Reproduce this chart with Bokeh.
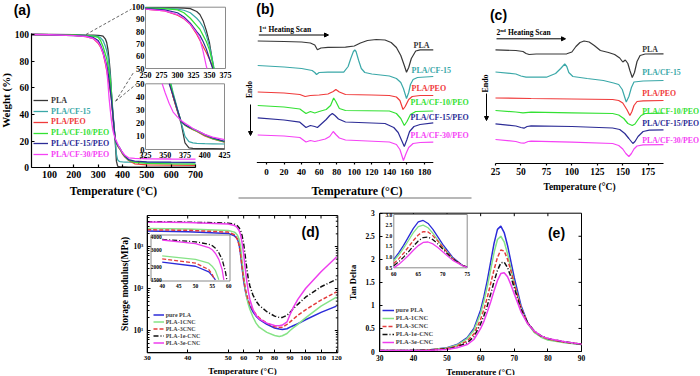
import math
from bokeh.plotting import figure
from bokeh.models import (Range1d, FixedTicker, CustomJSTickFormatter, Legend,
                          LegendItem, Label, Arrow, NormalHead, Spacer, LogScale)
from bokeh.layouts import row, column
from bokeh.embed import file_html
from bokeh.resources import INLINE
from bokeh.core.properties import value

# ======================= DATA =======================
A_NAMES = ["PLA", "PLA/CF-15", "PLA/PEO", "PLA/CF-10/PEO", "PLA/CF-15/PEO", "PLA/CF-30/PEO"]
A_COLORS = ["#383838", "#3aa8a8", "#f03a3a", "#33e133", "#2c2c96", "#f542f5"]

# (a) TGA: temperature (deg C) and weight (%)
TGA_T = [25, 100, 200, 250, 280, 300, 310, 320, 330, 335, 340, 345, 350, 355, 360, 365, 370, 375,
         380, 385, 390, 400, 410, 425, 450, 500, 600, 700]
TGA_PLA = [100, 100, 99.8, 99.6, 99.5, 99.4, 99.2, 98.8, 96.5, 94, 89, 81, 71, 55, 40, 30, 20, 5,
           1.2, 0.8, 0.7, 0.6, 0.6, 0.5, 0.5, 0.5, 0.5, 0.5]
TGA_CF15 = [100, 99.9, 99.6, 99.3, 99, 98.5, 97.5, 95.5, 91, 88, 84, 77, 68, 56, 43, 32, 21, 10,
            6, 5, 4.6, 4.4, 4.3, 4.2, 4.1, 4, 3.8, 3.7]
TGA_PEO = [100, 99.8, 99.3, 98.5, 97, 93.5, 90.6, 86, 78, 73, 68, 63, 57.5, 51, 40, 30, 21.5, 18.5,
           16.5, 15, 13.8, 10.3, 8, 5.5, 3, 2.2, 2, 1.8]
TGA_CF10P = [100, 99.8, 99.5, 99.2, 98.8, 97.8, 95.5, 91, 85, 82, 77, 72, 65, 54, 42, 31, 21.5, 18.5,
             16.8, 15.2, 14, 10.8, 8.3, 5.8, 4, 3.3, 3, 2.8]
TGA_CF15P = [100, 99.8, 99.2, 98.8, 97.8, 95.5, 92, 87, 80, 77, 72, 66, 58, 50, 41, 31, 21.5, 18.8,
             17.2, 15.8, 14.5, 11.3, 8.8, 6.2, 5, 4.5, 4.2, 4]
TGA_CF30P = [100, 99.8, 99.2, 98.5, 97, 94, 91, 86, 79, 74, 64, 52, 43, 35, 28.5, 25, 22, 20,
             18, 16, 14.5, 11.5, 9.4, 7.5, 7, 6.8, 6.6, 6.5]
A_XTICKS = [100, 200, 300, 400, 500, 600, 700]
A_YTICKS = [0, 20, 40, 60, 80, 100]
A_U_XT = [250, 275, 300, 325, 350, 375]
A_U_YT = [100, 90, 80, 70, 60, 50]
A_L_XT = [325, 350, 375, 400, 425]
A_L_YT = [50, 40, 30, 20, 10, 0]

# (b) 1st heating DSC: temperature and heat flow (a.u., exo up, relative to curve start)
B_T_PLA = [-10, 20, 40, 50, 55, 58, 62, 70, 90, 100, 107, 115, 125, 135, 142, 148, 153, 157, 159.5, 162, 165, 170, 175, 190]
B_HF_PLA = [0, -0.5, -1, -2, -4, -8.8, -7, -6.3, -6.2, -5, -2, 0.5, 1.5, 1, -1.5, -6.5, -14.5, -24.5, -31.2, -26.5, -17.5, -10, -8.8, -8.8]
B_T_CF15 = [-10, 20, 40, 52, 55, 57, 60, 70, 88, 93, 96, 99, 100.6, 102, 105, 108, 112, 120, 140, 148, 153, 156, 159.5, 162, 164, 167, 172, 190]
B_HF_CF15 = [0, -1.5, -3, -5, -7, -9, -7, -6.7, -6.7, -1, 7, 14, 15.5, 14, 5, -3, -7, -8.5, -10.5, -13, -17, -23, -33, -27, -19, -14, -12, -11]
B_T_PEO = [-10, 20, 38, 44, 50, 60, 70, 76, 79, 83, 90, 120, 140, 148, 152, 155.5, 158, 162, 166, 175, 190]
B_HF_PEO = [0, -1, -2.5, -4.5, -3.5, -3, -2, 0.5, 2.5, 0, -2.5, -3, -3.5, -5, -8.5, -17.5, -14.5, -7.5, -4.5, -3.5, -3.5]
B_T_CF10P = [-10, 20, 38, 45, 50, 55, 60, 68, 73, 76.5, 79, 83, 90, 140, 148, 153, 157, 160, 164, 170, 190]
B_HF_CF10P = [0, -1.5, -3.5, -8, -6, -7.5, -6, -4, 0, 7.5, 4, -3, -5, -5.5, -8, -13, -20, -16, -9, -6, -5.5]
B_T_CF15P = [-10, 20, 38, 45, 50, 55, 58, 63, 68, 72, 75, 78, 82, 90, 135, 145, 150, 154, 157, 160, 163, 168, 175, 190]
B_HF_CF15P = [0, -2.2, -4.4, -9.7, -7.7, -8.7, -9.7, -5.7, -1.7, 2.3, 4.3, 2.3, -1.2, -4.2, -5.7, -9.7, -14.7, -22.7, -28.7, -21.7, -13.7, -8.7, -6.7, -5]
B_T_CF30P = [-10, 20, 38, 45, 50, 55, 60, 67, 72, 76, 79, 83, 90, 140, 148, 152, 156, 159, 162, 167, 175, 190]
B_HF_CF30P = [0, -1, -2.5, -7, -5.5, -6.5, -5.5, -4, -1.5, 3.5, 0.5, -3, -5, -7, -9.5, -14.5, -25.5, -18.5, -12.5, -8.5, -7.5, -7.2]
B_OFFSET = [40.5, 65, 91.5, 105, 117.3, 134.5]
B_XTICKS = [0, 20, 40, 60, 80, 100, 120, 140, 160, 180]

# (c) 2nd heating DSC
C_T_PLA = [25, 45, 52, 55, 58, 65, 95, 100, 104, 108, 112, 117, 122, 128, 136, 142, 147, 150, 152.5, 155, 157, 159.3, 161.5, 164, 167, 172, 190]
C_HF_PLA = [0, -0.7, -1.7, -3.7, -4.7, -4.2, -4, -2.2, 3.3, 7.3, 8.8, 7.8, 4.3, -0.7, -2.7, -4.7, -8.2, -12.2, -10.2, -13.7, -20.7, -27.7, -22.7, -11.7, -5.7, -4.2, -4]
C_T_CF15 = [25, 45, 50, 55, 75, 84, 89, 93, 95, 97, 101, 115, 131, 141, 146, 149.5, 153.4, 156, 158.5, 161, 170, 190]
C_HF_CF15 = [0, -2, -4, -5.2, -5.2, -1.5, 3.5, 8, 5.5, -0.5, -4.5, -6.5, -8.5, -11, -12.5, -17.5, -30, -24.5, -15.5, -10, -9, -8.5]
C_T_PEO = [25, 60, 100, 140, 146, 150, 154, 157, 159, 161, 164, 170, 190]
C_HF_PEO = [0, -0.5, -1, -1.5, -2.5, -5, -11.5, -17.5, -13.5, -7.5, -3.5, -2.8, -2.5]
C_T_CF10P = [25, 45, 52, 60, 100, 140, 146, 151, 155, 159.3, 162, 165, 168, 172, 190]
C_HF_CF10P = [0, -1.5, -2.3, -1.7, -2.3, -3, -4.5, -8, -13, -15, -13.5, -9, -5, -3, -2.7]
C_T_CF15P = [25, 45, 50, 53, 56, 60, 100, 140, 147, 152, 156, 159.9, 162, 165, 170, 176, 190]
C_HF_CF15P = [0, -2.2, -3.7, -4.4, -2.7, -2, -2.7, -4.2, -5.7, -9.7, -14.7, -19.7, -17.7, -12.7, -7.7, -6.4, -6]
C_T_CF30P = [25, 45, 50, 53, 57, 60, 100, 140, 146, 150, 153, 156, 158.5, 161, 164, 170, 190]
C_HF_CF30P = [0, -2, -3.5, -3.7, -2, -1.7, -2.7, -4, -6, -9.5, -14, -17, -14, -9.5, -6.5, -5.3, -5.2]
C_OFFSET = [49.3, 71.5, 97.5, 110, 123.3, 139]
C_XTICKS = [25, 50, 75, 100, 125, 150, 175]

# (d) storage modulus (MPa)
D_NAMES = ["pure PLA", "PLA-1CNC", "PLA-3CNC", "PLA-1e-CNC", "PLA-3e-CNC"]
D_COLORS = ["#2b2bd9", "#86e386", "#e33b3b", "#111111", "#ee3cee"]
D_DASH = ["solid", "solid", "4 2", "5 2 1 2", "solid"]
D_T = [30, 40, 50, 54, 55, 56, 57, 58, 59, 60, 61, 62, 63, 64, 66, 68, 70, 75, 80, 83, 85, 88, 90, 92, 95, 100, 110, 120]
D_PURE = [2350, 2250, 2050, 1800, 1650, 1500, 1150, 650, 300, 150, 90, 62, 47, 38, 28, 22, 18.5, 14, 11.5, 10.8, 10.5, 11, 12, 13, 14.5, 18, 27, 38]
D_1CNC = [2700, 2600, 2400, 2200, 2050, 1850, 1500, 1000, 450, 200, 100, 60, 42, 32, 21, 15, 12, 9, 7.6, 7.2, 7.5, 8.5, 10, 11.5, 14, 20, 38, 62]
D_3CNC = [2500, 2430, 2200, 1900, 1700, 1450, 1100, 650, 320, 170, 100, 70, 52, 42, 31, 24, 20, 15, 12.3, 11.8, 12, 14, 16, 18.5, 23, 31, 53, 83]
D_1E = [3900, 3800, 3600, 3400, 3300, 3100, 2800, 2400, 1800, 1150, 600, 300, 170, 115, 70, 50, 40, 28, 22, 20.5, 20.5, 23, 27, 33, 42, 62, 110, 165]
D_3E = [3850, 3750, 3450, 3150, 3000, 2750, 2400, 1900, 1200, 650, 300, 150, 85, 55, 32, 23, 19, 15, 13.2, 13, 13.5, 16, 24, 35, 55, 100, 250, 560]
D_XTICKS = [30, 40, 50, 60, 70, 80, 90, 100, 110, 120]
D_YTICKS = [10, 100, 1000]
D_I_XT = [40, 45, 50, 55, 60]
D_I_YT = [4000, 3000, 2000, 1500]

# (e) tan delta
E_T = [30, 35, 40, 45, 50, 53, 56, 58, 60, 61, 62, 63, 64, 65, 66, 67, 68, 69, 70, 72, 74, 76, 78, 80, 85, 90]
E_PURE = [0.02, 0.02, 0.025, 0.04, 0.08, 0.15, 0.3, 0.5, 0.9, 1.2, 1.55, 1.95, 2.35, 2.65, 2.72, 2.58, 2.3, 1.95, 1.6, 1.0, 0.62, 0.42, 0.32, 0.26, 0.2, 0.15]
E_1CNC = [0.02, 0.02, 0.025, 0.04, 0.075, 0.14, 0.28, 0.46, 0.83, 1.1, 1.42, 1.78, 2.15, 2.43, 2.5, 2.38, 2.12, 1.8, 1.48, 0.94, 0.6, 0.41, 0.31, 0.25, 0.19, 0.15]
E_3CNC = [0.02, 0.02, 0.022, 0.035, 0.065, 0.12, 0.23, 0.38, 0.7, 0.92, 1.18, 1.48, 1.78, 2.04, 2.2, 2.18, 2.0, 1.75, 1.47, 0.95, 0.62, 0.43, 0.33, 0.27, 0.2, 0.16]
E_1E = [0.02, 0.02, 0.022, 0.03, 0.055, 0.1, 0.19, 0.32, 0.6, 0.78, 1.0, 1.25, 1.52, 1.76, 1.92, 1.94, 1.82, 1.62, 1.38, 0.92, 0.62, 0.44, 0.34, 0.28, 0.21, 0.16]
E_3E = [0.02, 0.02, 0.02, 0.025, 0.045, 0.08, 0.15, 0.26, 0.5, 0.66, 0.86, 1.08, 1.32, 1.54, 1.69, 1.71, 1.62, 1.45, 1.25, 0.86, 0.6, 0.44, 0.34, 0.28, 0.21, 0.16]
E_XTICKS = [30, 40, 50, 60, 70, 80, 90]
E_YTICKS = [0, 0.5, 1, 1.5, 2, 2.5, 3]
E_I_XT = [60, 65, 70, 75]
E_I_YT = [3.0, 2.5, 2.0, 1.5, 1.0, 0.5]

# ======================= HELPERS =======================
SERIF = "Liberation Serif"
SANS = "Liberation Sans"


def edge(p0, v0, p1, v1, q):
    return v0 + (q - p0) * (v1 - v0) / (p1 - p0)


def make_fig(W, H, xr, yr, **kw):
    p = figure(width=W, height=H, x_range=Range1d(*xr), y_range=Range1d(*yr),
               min_border=0, min_border_left=0, min_border_right=0, min_border_top=0,
               min_border_bottom=0, toolbar_location=None, output_backend="svg", title=None, **kw)
    p.grid.visible = False
    p.outline_line_color = None
    p.background_fill_color = "white"
    p.border_fill_color = "white"
    return p


def style_axis(ax, tick_px, lab_px, tick_in=0, tick_out=3, lw=1.0, std=2, lstd=2):
    ax.major_label_text_font = SERIF
    ax.major_label_text_font_style = "bold"
    ax.major_label_text_font_size = tick_px
    ax.major_label_text_color = "black"
    ax.axis_label_text_font = SERIF
    ax.axis_label_text_font_style = "bold"
    ax.axis_label_text_font_size = lab_px
    ax.axis_label_text_color = "black"
    ax.major_tick_in = tick_in
    ax.major_tick_out = tick_out
    ax.minor_tick_line_color = None
    ax.axis_line_width = lw
    ax.major_tick_line_width = lw
    ax.axis_line_color = "black"
    ax.major_tick_line_color = "black"
    ax.major_label_standoff = std
    ax.axis_label_standoff = lstd


def clip_poly(xs, ys, x0, x1, y0, y1):
    parts_x, parts_y = [], []
    cx, cy = [], []
    for i in range(len(xs) - 1):
        ax0, ay0, bx0, by0 = xs[i], ys[i], xs[i + 1], ys[i + 1]
        dx, dy = bx0 - ax0, by0 - ay0
        t0, t1 = 0.0, 1.0
        ok = True
        for pp, qq in ((-dx, ax0 - x0), (dx, x1 - ax0), (-dy, ay0 - y0), (dy, y1 - ay0)):
            if pp == 0:
                if qq < 0:
                    ok = False
                    break
            else:
                r = qq / pp
                if pp < 0:
                    if r > t1:
                        ok = False
                        break
                    t0 = max(t0, r)
                else:
                    if r < t0:
                        ok = False
                        break
                    t1 = min(t1, r)
        if not ok or t0 > t1:
            if cx:
                parts_x.append(cx)
                parts_y.append(cy)
                cx, cy = [], []
            continue
        s_x, s_y = ax0 + t0 * dx, ay0 + t0 * dy
        e_x, e_y = ax0 + t1 * dx, ay0 + t1 * dy
        if cx and t0 > 0:
            parts_x.append(cx)
            parts_y.append(cy)
            cx, cy = [], []
        if not cx:
            cx, cy = [s_x], [s_y]
        cx.append(e_x)
        cy.append(e_y)
        if t1 < 1:
            parts_x.append(cx)
            parts_y.append(cy)
            cx, cy = [], []
    if cx:
        parts_x.append(cx)
        parts_y.append(cy)
    return parts_x, parts_y


def lab(p, x, y, text, size, font=SERIF, color="black", align="left", angle=0.0):
    p.add_layout(Label(x=x, y=y, text=text, text_font=font, text_font_style="bold",
                       text_font_size=size, text_color=color, text_align=align,
                       text_baseline="middle", angle=angle))


def arrow(p, x0, y0, x1, y1, size=4):
    p.add_layout(Arrow(end=NormalHead(size=size, line_color="black", fill_color="black", line_width=1),
                       x_start=x0, y_start=y0, x_end=x1, y_end=y1, line_color="black", line_width=1))


def inset_texts(p, xs, ys, texts, size, align, rn):
    p.text(x=xs, y=ys, text=texts, text_font=value(SERIF), text_font_style="bold",
           text_font_size=size, text_align=align, text_baseline="middle", text_color="black",
           x_range_name=rn, y_range_name=rn)


def box_ticks(p, xt, yt, left, right, bottom, top, ylen=3, yminor=None):
    # inward tick marks on the top and right edges of a boxed frame
    p.ray(x=xt, y=[top] * len(xt), length=3, angle=-math.pi / 2, length_units="screen",
          line_color="black", line_width=1)
    p.ray(x=[right] * len(yt), y=yt, length=ylen, angle=math.pi, length_units="screen",
          line_color="black", line_width=1)
    if yminor:
        p.ray(x=[right] * len(yminor), y=yminor, length=2, angle=math.pi, length_units="screen",
              line_color="black", line_width=1)


TOP_H = 199
BOT_H = 176

# ======================= PANEL (a) =======================
ax_ = lambda q: edge(49, 100, 195, 700, q)
ay_ = lambda q: edge(167.3, 0, 34, 100, q)
pa = make_fig(232, TOP_H, (ax_(0), ax_(232)), (ay_(TOP_H), ay_(0)))
xa, ya = pa.xaxis[0], pa.yaxis[0]
style_axis(xa, "10px", "11.5px", tick_in=3, tick_out=0, lw=1.2, std=3, lstd=4)
style_axis(ya, "9.5px", "11px", tick_in=3, tick_out=0, lw=1.2, std=2, lstd=0)
xa.ticker = FixedTicker(ticks=A_XTICKS)
ya.ticker = FixedTicker(ticks=A_YTICKS)
xa.fixed_location = 0
ya.fixed_location = ax_(30.5)
xa.bounds = (ax_(30.5), 700)
ya.bounds = (0, 101)
xa.axis_label = "Temperature (°C)"
ya.axis_label = "Weight (%)"

A_SERIES = [TGA_PLA, TGA_CF15, TGA_PEO, TGA_CF10P, TGA_CF15P, TGA_CF30P]
a_rend = [pa.line(TGA_T, s, line_color=c, line_width=1.3) for s, c in zip(A_SERIES, A_COLORS)]

for i, (r, nm, c) in enumerate(zip(a_rend, A_NAMES, A_COLORS)):
    cy = 100.3 + 10.75 * i
    pa.add_layout(Legend(items=[LegendItem(label=nm, renderers=[r])],
                         location=(33, TOP_H - (cy + 5)),
                         label_text_font=SERIF, label_text_font_style="bold", label_text_font_size="8px",
                         label_text_color=c, label_height=10, glyph_height=10, glyph_width=15,
                         label_standoff=3, spacing=0, padding=0, margin=0,
                         border_line_alpha=0, background_fill_alpha=0))

# insets of (a)
ux = lambda q: edge(145, 250, 225, 375, q)
uy = lambda q: edge(68, 50, 6.7, 100, q)
lx = lambda q: edge(145, 325, 224, 425, q)
ly = lambda q: edge(149, 0, 83.3, 50, q)
pa.extra_x_ranges = {"u": Range1d(ux(0), ux(232)), "l": Range1d(lx(0), lx(232))}
pa.extra_y_ranges = {"u": Range1d(uy(TOP_H), uy(0)), "l": Range1d(ly(TOP_H), ly(0))}

# dashed connectors (main data point -> inset corner)
for (sx_, sy_), (ex_px, ey_px) in [((250, 100), (131, 8.5)), ((372, 50), (133, 72)),
                                   ((372, 50), (136, 83.5)), ((466, 3), (142, 153))]:
    pa.line([sx_, ax_(ex_px)], [sy_, ay_(ey_px)], line_dash="3 2", line_color="#555555", line_width=0.9)

for nm_, (x0, x1, y0, y1, xt, yt, fx, fy, xlab_py) in {
        "u": (250, 375, 50, 100, A_U_XT, A_U_YT, ux, uy, 74.5),
        "l": (325, 425, 0, 50, A_L_XT, A_L_YT, lx, ly, 154.5)}.items():
    pa.quad(left=x0, right=x1, bottom=y0, top=y1, fill_color="white", line_color="#8a8a8a",
            line_width=1, x_range_name=nm_, y_range_name=nm_)
    for s, c in zip(A_SERIES, A_COLORS):
        px_, py_ = clip_poly(TGA_T, s, x0, x1, y0, y1)
        if px_:
            pa.multi_line(px_, py_, line_color=c, line_width=1.2, x_range_name=nm_, y_range_name=nm_)
    inset_texts(pa, xt, [fy(xlab_py)] * len(xt), [str(t) for t in xt], "8px", "center", nm_)
    inset_texts(pa, [fx(144)] * len(yt), yt, [str(t) for t in yt], "8.5px", "right", nm_)

lab(pa, ax_(21.7), ay_(9.3), "(a)", "14px", font=SANS, align="center")

# ======================= PANEL (b) =======================
bx = lambda q: edge(266, 0, 424, 180, q)
pb = make_fig(240, TOP_H, (bx(232), bx(472)), (-TOP_H, 0), y_axis_location=None)
xb = pb.xaxis[0]
style_axis(xb, "9px", "12px", tick_in=0, tick_out=2, lw=1.2, std=4, lstd=6)
xb.ticker = FixedTicker(ticks=B_XTICKS)
xb.fixed_location = -162
xb.bounds = (-11, 218)          # label centred as in the original; visible line drawn below
xb.axis_line_color = None
pb.line([-11, 190], [-162, -162], line_color="black", line_width=1.2)
xb.axis_label = "Temperature (°C)"
B_T = [B_T_PLA, B_T_CF15, B_T_PEO, B_T_CF10P, B_T_CF15P, B_T_CF30P]
B_HF = [B_HF_PLA, B_HF_CF15, B_HF_PEO, B_HF_CF10P, B_HF_CF15P, B_HF_CF30P]
for t, hf, off, c in zip(B_T, B_HF, B_OFFSET, A_COLORS):
    pb.line(t, [h - off for h in hf], line_color=c, line_width=1.2)
B_LAB_Y = [45, 70, 88.3, 102, 116.5, 134.5]
B_LAB_X = [413, 411, 411, 410, 410, 410]
pb.text(x=[bx(v) for v in B_LAB_X], y=[-v for v in B_LAB_Y], text=A_NAMES, text_font=value(SERIF),
        text_font_style="bold", text_font_size="8px", text_color=A_COLORS, text_align="left",
        text_baseline="middle")
lab(pb, bx(258.3), -28.5, "1", "7.5px")
lab(pb, bx(262.1), -26.6, "st", "5px")
lab(pb, bx(268), -28.5, "Heating Scan", "7.5px")
arrow(pb, bx(258.3), -34.5, bx(328), -34.5)
lab(pb, bx(248.5), -89, "Endo", "7.5px", align="center", angle=math.pi / 2)
arrow(pb, bx(250), -104, bx(250), -135)
lab(pb, bx(264.7), -8.5, "(b)", "14px", font=SANS, align="center")
pb.line([bx(238), bx(471)], [-197.5, -197.5], line_color="#a0a0a0", line_width=1.5)

# ======================= PANEL (c) =======================
cx_ = lambda q: edge(495, 25, 663, 190, q)
pc = make_fig(228, TOP_H, (cx_(472), cx_(700)), (-TOP_H, 0), y_axis_location=None)
xc = pc.xaxis[0]
style_axis(xc, "9.5px", "9.5px", tick_in=0, tick_out=2, lw=1.2, std=2, lstd=4)
xc.ticker = FixedTicker(ticks=C_XTICKS)
xc.fixed_location = -163
xc.bounds = (25, 190)
xc.axis_label = "Temperature (°C)"
C_T = [C_T_PLA, C_T_CF15, C_T_PEO, C_T_CF10P, C_T_CF15P, C_T_CF30P]
C_HF = [C_HF_PLA, C_HF_CF15, C_HF_PEO, C_HF_CF10P, C_HF_CF15P, C_HF_CF30P]
for t, hf, off, c in zip(C_T, C_HF, C_OFFSET, A_COLORS):
    pc.line(t, [h - off for h in hf], line_color=c, line_width=1.2)
C_LAB_Y = [49.3, 72, 93, 110.7, 123.3, 139.5]
pc.text(x=[cx_(641.7)] * 6, y=[-v for v in C_LAB_Y], text=A_NAMES, text_font=value(SERIF),
        text_font_style="bold", text_font_size="7.8px", text_color=A_COLORS, text_align="left",
        text_baseline="middle")
lab(pc, cx_(496), -31.7, "2", "7.5px")
lab(pc, cx_(499.8), -29.8, "nd", "5px")
lab(pc, cx_(507.5), -31.7, "Heating Scan", "7.5px")
arrow(pc, cx_(496), -38.3, cx_(565), -38.3)
lab(pc, cx_(485), -83, "Endo", "8px", align="center", angle=math.pi / 2)
arrow(pc, cx_(486), -93, cx_(486), -120)
lab(pc, cx_(498), -14, "(c)", "14px", font=SANS, align="center")

# ======================= PANEL (d) =======================
OY2 = TOP_H
D_X0, D_X1 = 120, 348
du = lambda q: edge(146.7, 30, 227.7, 50, q)
dl = lambda q: edge(330, 1, 246, 3, q)
D_K = (du(336) - 50) / 70.0


def d_u(T):
    return T if T <= 50 else 50 + (T - 50) * D_K


pd = make_fig(D_X1 - D_X0, BOT_H, (du(D_X0), du(D_X1)), (10 ** dl(OY2 + BOT_H), 10 ** dl(OY2)),
              y_axis_type="log")
xd, yd = pd.xaxis[0], pd.yaxis[0]
style_axis(xd, "7px", "9px", tick_in=3, tick_out=0, lw=1, std=3, lstd=3)
style_axis(yd, "7.5px", "9.5px", tick_in=3, tick_out=0, lw=1, std=4, lstd=1)
D_MINOR = [m * 10 ** e for e in range(0, 4) for m in range(2, 10) if 2.9 < m * 10 ** e < 5500]
xd.ticker = FixedTicker(ticks=[d_u(t) for t in D_XTICKS])
xd.formatter = CustomJSTickFormatter(args=dict(k=D_K),
                                     code="const T = tick <= 50 ? tick : 50 + (tick - 50) / k; return String(Math.round(T));")
yd.ticker = FixedTicker(ticks=D_YTICKS, minor_ticks=D_MINOR)
yd.formatter = CustomJSTickFormatter(code="const e = Math.round(Math.log10(tick)); const s = {1: '¹', 2: '²', 3: '³'}; return '10' + s[e];")
yd.minor_tick_line_color = "black"
yd.minor_tick_in = 2
yd.minor_tick_out = 0
D_BOX = (du(146.7), du(337.3), 10 ** dl(352.3), 10 ** dl(215))
xd.fixed_location = D_BOX[2]
yd.fixed_location = D_BOX[0]
xd.bounds = (D_BOX[0], D_BOX[1])
yd.bounds = (D_BOX[2], D_BOX[3])
xd.axis_label = "Temperature (°C)"
yd.axis_label = "Storage modulus(MPa)"
pd.quad(left=D_BOX[0], right=D_BOX[1], bottom=D_BOX[2], top=D_BOX[3], fill_color=None,
        line_color="black", line_width=1)
box_ticks(pd, [d_u(t) for t in D_XTICKS[1:-1]], D_YTICKS, *D_BOX, yminor=D_MINOR)

D_SERIES = [D_PURE, D_1CNC, D_3CNC, D_1E, D_3E]
d_x = [d_u(t) for t in D_T]
d_rend = [pd.line(d_x, s, line_color=c, line_dash=dsh, line_width=1.5)
          for s, c, dsh in zip(D_SERIES, D_COLORS, D_DASH)]
pd.add_layout(Legend(items=[LegendItem(label=n, renderers=[r]) for n, r in zip(D_NAMES, d_rend)],
                     location=(152.7 - D_X0, OY2 + BOT_H - 346.1),
                     label_text_font=SERIF, label_text_font_style="bold", label_text_font_size="6px",
                     label_height=7, glyph_height=7, glyph_width=11, label_standoff=2, spacing=0,
                     padding=0, margin=0, border_line_alpha=0, background_fill_alpha=0))

# inset of (d)
dix = lambda q: edge(161.7, 40, 228.3, 60, q)
diy = lambda q: edge(279.3, math.log10(1500), 236.7, math.log10(4000), q)
pd.extra_x_ranges = {"ins": Range1d(dix(D_X0), dix(D_X1))}
pd.extra_y_ranges = {"ins": Range1d(10 ** diy(OY2 + BOT_H), 10 ** diy(OY2))}
pd.extra_y_scales = {"ins": LogScale()}
pd.quad(left=dix(150.5), right=dix(229.5), bottom=10 ** diy(280.5), top=10 ** diy(234.5),
        fill_color="white", line_color="#8a8a8a", line_width=1, x_range_name="ins", y_range_name="ins")
for s, c, dsh in zip(D_SERIES, D_COLORS, D_DASH):
    px_, py_ = clip_poly(D_T, [math.log10(v) for v in s], 40, 60, math.log10(1500), math.log10(4000))
    if px_:
        pd.multi_line(px_, [[10 ** v for v in seg] for seg in py_], line_color=c, line_dash=dsh,
                      line_width=1.3, x_range_name="ins", y_range_name="ins")
inset_texts(pd, D_I_XT, [10 ** diy(285.3)] * len(D_I_XT), [str(t) for t in D_I_XT], "5.5px", "center", "ins")
inset_texts(pd, [dix(161.3)] * len(D_I_YT), D_I_YT, [str(t) for t in D_I_YT], "5.5px", "right", "ins")
lab(pd, du(310), 10 ** dl(231), "(d)", "14px", font=SANS, align="center")

# ======================= PANEL (e) =======================
E_X0, E_X1 = 348, 592
ex = lambda q: edge(379.3, 30, 581, 90, q)
ey = lambda q: edge(351, 0, 212.7, 3, q)
pe = make_fig(E_X1 - E_X0, BOT_H, (ex(E_X0), ex(E_X1)), (ey(OY2 + BOT_H), ey(OY2)))
xe, ye = pe.xaxis[0], pe.yaxis[0]
style_axis(xe, "7.5px", "9px", tick_in=3, tick_out=0, lw=1, std=3, lstd=3)
style_axis(ye, "7.5px", "8.5px", tick_in=3, tick_out=0, lw=1, std=5, lstd=4)
xe.ticker = FixedTicker(ticks=E_XTICKS)
ye.ticker = FixedTicker(ticks=E_YTICKS)
ye.formatter = CustomJSTickFormatter(code="return String(Math.round(tick * 10) / 10);")
E_BOX = (30, 90, 0, 3)
xe.fixed_location = 0
ye.fixed_location = 30
xe.bounds = (30, 90)
ye.bounds = (0, 3)
xe.axis_label = "Temperature (°C)"
ye.axis_label = "Tan Delta"
pe.quad(left=E_BOX[0], right=E_BOX[1], bottom=E_BOX[2], top=E_BOX[3], fill_color=None,
        line_color="black", line_width=1)
box_ticks(pe, E_XTICKS[1:-1], E_YTICKS[1:-1], *E_BOX)

E_SERIES = [E_PURE, E_1CNC, E_3CNC, E_1E, E_3E]
e_rend = [pe.line(E_T, s, line_color=c, line_dash=dsh, line_width=1.5)
          for s, c, dsh in zip(E_SERIES, D_COLORS, D_DASH)]
pe.add_layout(Legend(items=[LegendItem(label=n, renderers=[r]) for n, r in zip(D_NAMES, e_rend)],
                     location=(381.7 - E_X0, OY2 + BOT_H - 345.9),
                     label_text_font=SERIF, label_text_font_style="bold", label_text_font_size="6.5px",
                     label_height=8, glyph_height=8, glyph_width=12, label_standoff=2, spacing=0,
                     padding=0, margin=0, border_line_alpha=0, background_fill_alpha=0))

eix = lambda q: edge(393.3, 60, 466.7, 75, q)
eiy = lambda q: edge(267.3, 0.5, 214, 3.0, q)
pe.extra_x_ranges = {"ins": Range1d(eix(E_X0), eix(E_X1))}
pe.extra_y_ranges = {"ins": Range1d(eiy(OY2 + BOT_H), eiy(OY2))}
pe.quad(left=60, right=75, bottom=0.5, top=3.0, fill_color="white", line_color="#8a8a8a",
        line_width=1, x_range_name="ins", y_range_name="ins")
for s, c, dsh in zip(E_SERIES, D_COLORS, D_DASH):
    px_, py_ = clip_poly(E_T, s, 60, 75, 0.5, 3.0)
    if px_:
        pe.multi_line(px_, py_, line_color=c, line_dash=dsh, line_width=1.3,
                      x_range_name="ins", y_range_name="ins")
inset_texts(pe, E_I_XT, [eiy(273.5)] * len(E_I_XT), [str(t) for t in E_I_XT], "5.5px", "center", "ins")
inset_texts(pe, [eix(391.8)] * len(E_I_YT), E_I_YT, [f"{t:.1f}" for t in E_I_YT], "5.5px", "right", "ins")
lab(pe, ex(556), ey(232), "(e)", "14px", font=SANS, align="center")

# ======================= LAYOUT =======================
top_row = row(pa, pb, pc)
bot_row = row(Spacer(width=D_X0, height=BOT_H), pd, pe)
layout = column(top_row, bot_row)

open("out.html", "w").write(file_html(layout, INLINE))
